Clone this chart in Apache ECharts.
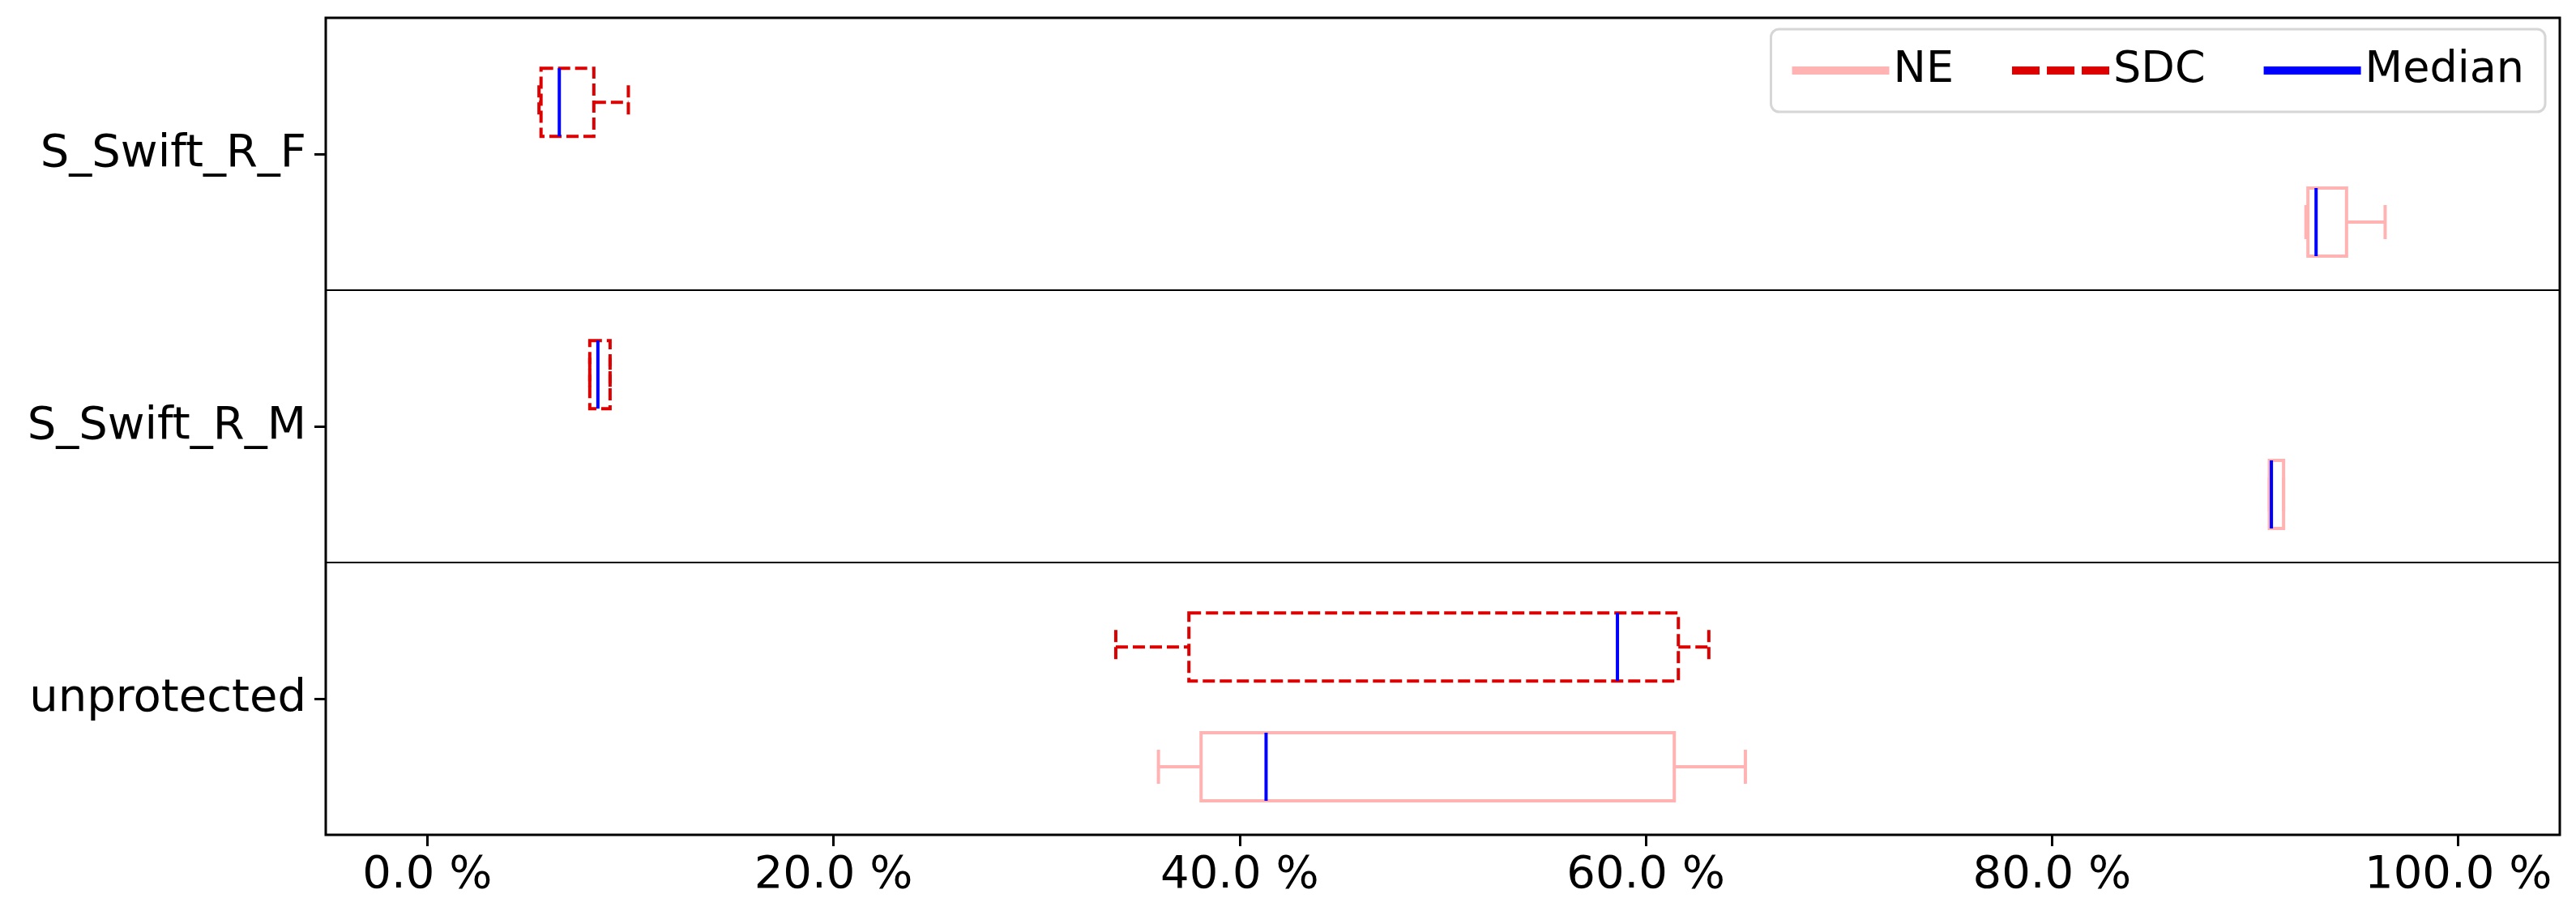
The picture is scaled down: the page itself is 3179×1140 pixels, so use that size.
<!DOCTYPE html>
<html>
<head>
<meta charset="utf-8">
<script src="https://cdn.jsdelivr.net/npm/echarts@6/dist/echarts.min.js"></script>
<style>html,body{margin:0;padding:0;background:#fff}#chart{width:3179px;height:1140px}</style>
</head>
<body>
<div id="chart"></div>
<script>
// 类别（自下而上）
var categories = ['unprotected', 'S_Swift_R_M', 'S_Swift_R_F'];
var xTicks = [0, 20, 40, 60, 80, 100];
// [min, q1, median, q3, max]
var neStats = [
    [36.0, 38.1, 41.3, 61.4, 64.9],
    [90.7, 90.7, 90.8, 91.4, 91.4],
    [92.5, 92.6, 93.0, 94.5, 96.4]
];
var sdcStats = [
    [33.9, 37.5, 58.6, 61.6, 63.1],
    [8.0, 8.0, 8.4, 9.0, 9.0],
    [5.5, 5.6, 6.5, 8.2, 9.9]
];

var NE_COLOR = '#ffb3b3', SDC_COLOR = '#dd0000', MED_COLOR = '#0000ff';
var LW = 4;

function boxRender(offset, color, dash) {
    return function (params, api) {
        var cat = api.value(0);
        var band = api.size([0, 1])[1];
        var cy = api.coord([0, cat])[1] + offset * band;
        var h = band * 0.125;
        var x = function (v) { return api.coord([v, cat])[0]; };
        var xmin = x(api.value(1)), q1 = x(api.value(2)), med = x(api.value(3)),
            q3 = x(api.value(4)), xmax = x(api.value(5));
        var st = { stroke: color, lineWidth: LW, fill: null, lineDash: dash };
        return {
            type: 'group',
            children: [
                { type: 'rect', shape: { x: q1, y: cy - h, width: q3 - q1, height: 2 * h }, style: st },
                { type: 'line', shape: { x1: xmin, y1: cy, x2: q1, y2: cy }, style: st },
                { type: 'line', shape: { x1: q3, y1: cy, x2: xmax, y2: cy }, style: st },
                { type: 'line', shape: { x1: xmin, y1: cy - h / 2, x2: xmin, y2: cy + h / 2 }, style: st },
                { type: 'line', shape: { x1: xmax, y1: cy - h / 2, x2: xmax, y2: cy + h / 2 }, style: st },
                { type: 'line', shape: { x1: med, y1: cy - h, x2: med, y2: cy + h },
                  style: { stroke: MED_COLOR, lineWidth: LW } }
            ]
        };
    };
}

function toData(stats) {
    return stats.map(function (s, i) { return [i].concat(s); });
}

var font = 'DejaVu Sans';
var chart = echarts.init(document.getElementById('chart'));
chart.setOption({
    animation: false,
    grid: { left: 402, right: 20, top: 22, bottom: 110, show: true, borderColor: '#000', borderWidth: 3 },
    legend: {
        right: 38, top: 36,
        itemWidth: 120, itemHeight: 10, itemGap: 72,
        padding: [24, 26],
        borderColor: '#d6d6d6', borderWidth: 3, borderRadius: 10,
        textStyle: { fontFamily: font, fontSize: 54, color: '#000' },
        data: [
            { name: 'NE', icon: 'path://M0,0H120V10H0Z' },
            { name: 'SDC', icon: 'path://M0,0H34V10H0ZM43,0H77V10H43ZM86,0H120V10H86Z' },
            { name: 'Median', icon: 'path://M0,0H120V10H0Z' }
        ]
    },
    xAxis: {
        type: 'value', min: -5, max: 105,
        axisLine: { show: false, onZero: false },
        axisTick: { show: true, length: 14, lineStyle: { color: '#000', width: 3 }, customValues: xTicks },
        axisLabel: { customValues: xTicks, fontFamily: font, fontSize: 56, color: '#000', margin: 22,
            formatter: function (v) { return v.toFixed(1) + ' %'; } },
        splitLine: { show: false }
    },
    yAxis: {
        type: 'category', data: categories,
        axisLine: { show: false, onZero: false },
        axisTick: { show: true, alignWithLabel: true, length: 14, lineStyle: { color: '#000', width: 3 } },
        axisLabel: { fontFamily: font, fontSize: 56, color: '#000', margin: 24 },
        splitLine: { show: true, lineStyle: { color: '#000', width: 2 } }
    },
    series: [
        { name: 'NE', type: 'custom', renderItem: boxRender(0.25, NE_COLOR, null),
          encode: { x: [1, 2, 3, 4, 5], y: 0 }, data: toData(neStats), color: NE_COLOR },
        { name: 'SDC', type: 'custom', renderItem: boxRender(-0.19, SDC_COLOR, [15, 6]),
          encode: { x: [1, 2, 3, 4, 5], y: 0 }, data: toData(sdcStats), color: SDC_COLOR },
        { name: 'Median', type: 'line', data: [], color: MED_COLOR }
    ]
});
</script>
</body>
</html>
